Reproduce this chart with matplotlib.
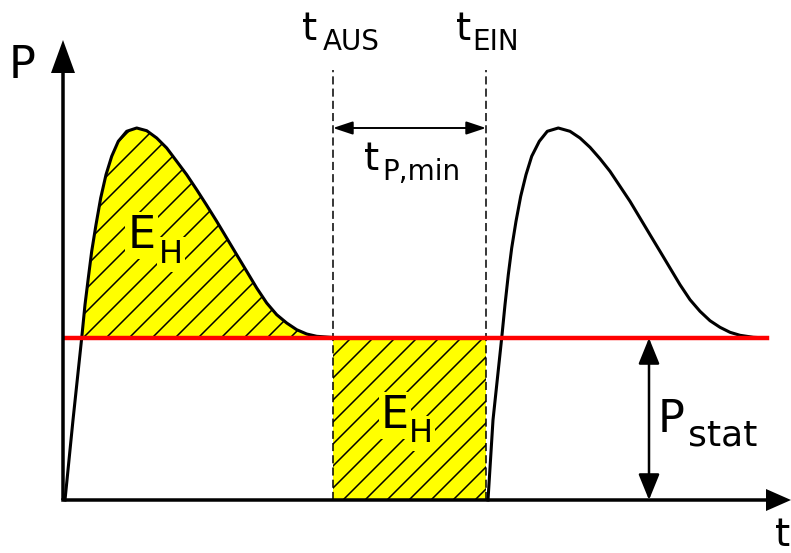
import numpy as np
import matplotlib.pyplot as plt
from matplotlib.patches import FancyArrowPatch

# pulse shapes (t, P in picture units)
pulse1_t = [2, 10, 18.7, 22, 25.3, 28.7, 33, 37.7, 43, 48.7, 55.3, 63.7, 73.7,
            83.7, 93.7, 103.7, 113.7, 123.7, 133.7, 143.7, 153.7, 163.7, 173.7,
            183.7, 193.7, 203.7, 213.7, 223.7, 233.7, 243.7, 253.7, 267, 277]
pulse1_p = [0, 80, 162, 195.3, 222, 248.7, 275.3, 302, 325.3, 343.7, 358.7,
            368.7, 372, 369.3, 362, 352, 338.7, 325.3, 310.3, 294.7, 278.7, 262,
            245.3, 228.7, 212, 197, 185.3, 177, 170.3, 166, 163.7, 162.7, 162]
pulse2_t = [425, 430, 438.7, 442, 445.3, 448.7, 453, 457.7, 463, 468.7, 476.3,
            484.3, 495.3, 507, 517, 527, 537, 547, 557, 567, 577, 587, 597, 607,
            617, 627, 637, 647, 657, 667, 677, 690.3, 703.7]
pulse2_p = [0, 80, 162, 195.3, 225.3, 252, 278.7, 303.7, 325.3, 343.7, 358.7,
            368.7, 372, 368.7, 362, 352.7, 341.3, 328.7, 313.7, 298.7, 282,
            265.3, 248.7, 232, 215.3, 200.3, 188.7, 179.3, 172.7, 167.7, 164.7,
            162.7, 162]

p_stat = 162
t_aus = 270
t_ein = 423
t_end = 704

fig = plt.figure(figsize=(7.91, 5.53), dpi=100)
ax = fig.add_axes([0, 0, 1, 1])
ax.set_xlim(-63, 728)
ax.set_ylim(-53, 500)
ax.axis('off')

YELLOW = '#ffff00'


def hatch(coll, c_start, c_stop, step):
    # diagonal hatch lines clipped to the filled area
    path = coll.get_paths()[0]
    for c in np.arange(c_start, c_stop, step):
        ln, = ax.plot([c, c + 600], [0, 600], color='k', lw=1.1, zorder=2)
        ln.set_clip_path(path, ax.transData)


# shaded energy areas
p1 = np.array(pulse1_p)
area1 = ax.fill_between(pulse1_t, pulse1_p, p_stat, where=p1 >= p_stat,
                        color=YELLOW, lw=0, zorder=1)
hatch(area1, -142 - 23 * 10, 280, 23)
area2 = ax.fill_between([t_aus, t_ein], 0, p_stat, color=YELLOW, lw=0, zorder=1)
hatch(area2, 104, 430, 22)

# power pulses
ax.plot(pulse1_t, pulse1_p, color='k', lw=2.2, solid_joinstyle='round', zorder=4)
ax.plot(pulse2_t, pulse2_p, color='k', lw=2.2, solid_joinstyle='round', zorder=4)

# static power
ax.plot([2, t_end], [p_stat, p_stat], color='#ff0000', lw=3.2, zorder=5)

# switching times
for tx in (t_aus, t_ein):
    ax.plot([tx, tx], [0, 430], color='k', lw=1.1, ls=(0, (5.3, 2.7)), zorder=3)

# axes with arrows
ax.arrow(0, 0, 0, 460, width=3.5, head_width=24, head_length=33,
         length_includes_head=True, fc='k', ec='none', zorder=6)
ax.arrow(-1.75, 0, 729.75, 0, width=3.5, head_width=22, head_length=25,
         length_includes_head=True, fc='k', ec='none', zorder=6)

# dimension arrows
ax.add_patch(FancyArrowPatch((t_aus, 372), (t_ein, 372),
                             arrowstyle='<|-|>,head_length=12,head_width=4',
                             mutation_scale=1, lw=1.4, color='k',
                             shrinkA=0, shrinkB=0, zorder=6))
ax.add_patch(FancyArrowPatch((586, 0), (586, p_stat),
                             arrowstyle='<|-|>,head_length=16,head_width=6.5',
                             mutation_scale=1, lw=1.8, color='k',
                             shrinkA=0, shrinkB=0, zorder=6))

# labels
font = 'DejaVu Sans'
box = dict(boxstyle='square,pad=0.05', fc=YELLOW, ec='none')


def label(x, y, main, size, sub=None, sx=0, sy=0, sub_size=None, bbox=None):
    ax.text(x, y, main, fontsize=size, family=font, va='baseline', ha='left',
            bbox=bbox, zorder=3.5)
    if sub:
        ax.text(sx, sy, sub, fontsize=sub_size, family=font, va='baseline',
                ha='left', bbox=bbox, zorder=3.5)


label(-54, 422, 'P', 32)
label(712, -46, 't', 28)
label(239, 460, 't', 28, 'AUS', 260, 450, 20)
label(393, 460, 't', 28, 'EIN', 409.5, 450, 20)
label(301, 330, 't', 28, 'P,min', 319.5, 320, 20)
label(64.6, 252, 'E', 32, 'H', 96, 237, 23, bbox=box)
label(318, 72, 'E', 32, 'H', 346, 58, 23, bbox=box)
label(595, 68, 'P', 32, 'stat', 625, 54, 26)

fig.savefig('out.png', dpi=100)
